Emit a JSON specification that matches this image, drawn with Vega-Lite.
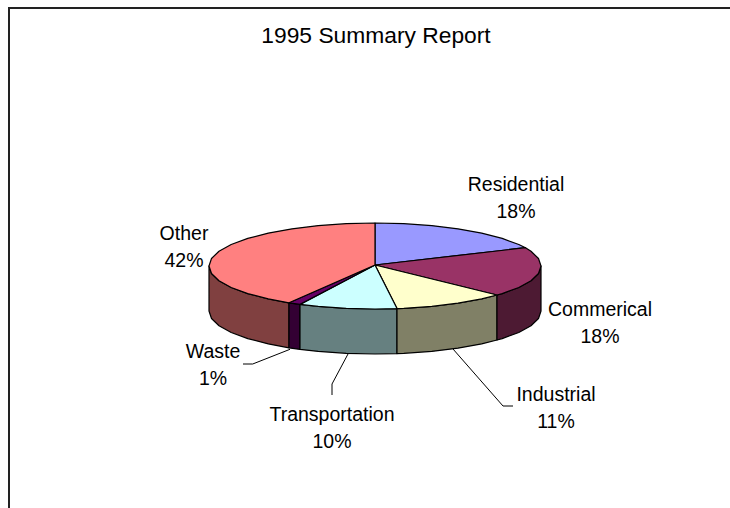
{"$schema":"https://vega.github.io/schema/vega-lite/v6.json","width":730,"height":508,"padding":0,"autosize":{"type":"none"},"background":"white","view":{"stroke":null},
"title":{"text":"1995 Summary Report","font":"Liberation Sans","fontSize":22.8,"fontWeight":"normal","color":"#000000","anchor":"middle","baseline":"alphabetic","dx":11,"dy":66,"offset":0},
"projection":{"type":"identity","scale":1,"translate":[0,0]},
"layer":[
{"data":{"values":[
{"type":"Feature","properties":{"part":"Other wall"},"geometry":{"type":"Polygon","coordinates":[[[289,302.8],[268.3,298.9],[247.8,293.6],[231.2,287.5],[219,280.7],[211.5,273.5],[209,266],[209,311],[211.5,318.5],[219,325.7],[231.2,332.5],[247.8,338.6],[268.3,343.9],[289,347.8],[289,302.8]]]}},
{"type":"Feature","properties":{"part":"Waste wall"},"geometry":{"type":"Polygon","coordinates":[[[300,304.4],[289,302.8],[289,347.8],[300,349.4],[300,304.4]]]}},
{"type":"Feature","properties":{"part":"Transportation wall"},"geometry":{"type":"Polygon","coordinates":[[[397,308.6],[375,309],[346.2,308.3],[318.2,306.4],[300,304.4],[300,349.4],[318.2,351.4],[346.2,353.3],[375,354],[397,353.6],[397,308.6]]]}},
{"type":"Feature","properties":{"part":"Industrial wall"},"geometry":{"type":"Polygon","coordinates":[[[497,295],[481.7,298.9],[458,303.2],[431.8,306.4],[403.8,308.3],[397,308.6],[397,353.6],[403.8,353.3],[431.8,351.4],[458,348.2],[481.7,343.9],[497,340],[497,295]]]}},
{"type":"Feature","properties":{"part":"Commerical wall"},"geometry":{"type":"Polygon","coordinates":[[[541,266],[538.5,273.5],[531,280.7],[518.8,287.5],[502.2,293.6],[497,295],[497,340],[502.2,338.6],[518.8,332.5],[531,325.7],[538.5,318.5],[541,311],[541,266]]]}},
{"type":"Feature","properties":{"part":"Residential"},"geometry":{"type":"Polygon","coordinates":[[[375,265],[375,223],[403.8,223.7],[431.8,225.6],[458,228.8],[481.7,233.1],[502.2,238.4],[518.8,244.5],[525.5,247.7],[375,265]]]}},
{"type":"Feature","properties":{"part":"Commerical"},"geometry":{"type":"Polygon","coordinates":[[[375,265],[525.5,247.7],[531,251.3],[538.5,258.5],[541,266],[538.5,273.5],[531,280.7],[518.8,287.5],[502.2,293.6],[497,295],[375,265]]]}},
{"type":"Feature","properties":{"part":"Industrial"},"geometry":{"type":"Polygon","coordinates":[[[375,265],[497,295],[481.7,298.9],[458,303.2],[431.8,306.4],[403.8,308.3],[397,308.6],[375,265]]]}},
{"type":"Feature","properties":{"part":"Transportation"},"geometry":{"type":"Polygon","coordinates":[[[375,265],[397,308.6],[375,309],[346.2,308.3],[318.2,306.4],[300,304.4],[375,265]]]}},
{"type":"Feature","properties":{"part":"Waste"},"geometry":{"type":"Polygon","coordinates":[[[375,265],[300,304.4],[289,302.8],[375,265]]]}},
{"type":"Feature","properties":{"part":"Other"},"geometry":{"type":"Polygon","coordinates":[[[375,265],[289,302.8],[268.3,298.9],[247.8,293.6],[231.2,287.5],[219,280.7],[211.5,273.5],[209,266],[211.5,258.5],[219,251.3],[231.2,244.5],[247.8,238.4],[268.3,233.1],[292,228.8],[318.2,225.6],[346.2,223.7],[375,223],[375,265]]]}}
]},
"mark":{"type":"geoshape","stroke":"#000000","strokeWidth":1.2,"strokeJoin":"round"},
"encoding":{"fill":{"field":"properties.part","type":"nominal","legend":null,"scale":{"domain":["Residential","Commerical","Industrial","Transportation","Waste","Other","Commerical wall","Industrial wall","Transportation wall","Waste wall","Other wall"],"range":["#9999FF","#993366","#FFFFCC","#CCFFFF","#660066","#FF8080","#4D1A33","#808066","#668080","#330033","#804040"]}}}},
{"data":{"values":[
{"type":"Feature","properties":{"item":"Waste"},"geometry":{"type":"LineString","coordinates":[[243,364],[252.7,364],[290,349.3]]}},
{"type":"Feature","properties":{"item":"Transportation"},"geometry":{"type":"LineString","coordinates":[[348,354],[332,384],[332,395]]}},
{"type":"Feature","properties":{"item":"Industrial"},"geometry":{"type":"LineString","coordinates":[[453,349],[503,406],[513,406]]}}
]},
"mark":{"type":"geoshape","filled":false,"stroke":"#000000","strokeWidth":1}},
{"data":{"values":[
{"type":"Feature","properties":{"item":"frame"},"geometry":{"type":"LineString","coordinates":[[9,508],[9,8],[730,8]]}}
]},
"mark":{"type":"geoshape","filled":false,"stroke":"#222222","strokeWidth":2}},
{"data":{"values":[
{"name":"Residential","share":"18%","x":516,"y1":185,"y2":212},
{"name":"Commerical","share":"18%","x":600,"y1":310,"y2":337},
{"name":"Industrial","share":"11%","x":556,"y1":395,"y2":422},
{"name":"Transportation","share":"10%","x":332,"y1":415,"y2":442},
{"name":"Waste","share":"1%","x":213,"y1":352,"y2":379},
{"name":"Other","share":"42%","x":184,"y1":234,"y2":261}
]},
"layer":[
{"mark":{"type":"text","font":"Liberation Sans","fontSize":19.5,"color":"#000000","align":"center","baseline":"middle"},"encoding":{"longitude":{"field":"x","type":"quantitative"},"latitude":{"field":"y1","type":"quantitative"},"text":{"field":"name"}}},
{"mark":{"type":"text","font":"Liberation Sans","fontSize":19.5,"color":"#000000","align":"center","baseline":"middle"},"encoding":{"longitude":{"field":"x","type":"quantitative"},"latitude":{"field":"y2","type":"quantitative"},"text":{"field":"share"}}}
]}
]}
